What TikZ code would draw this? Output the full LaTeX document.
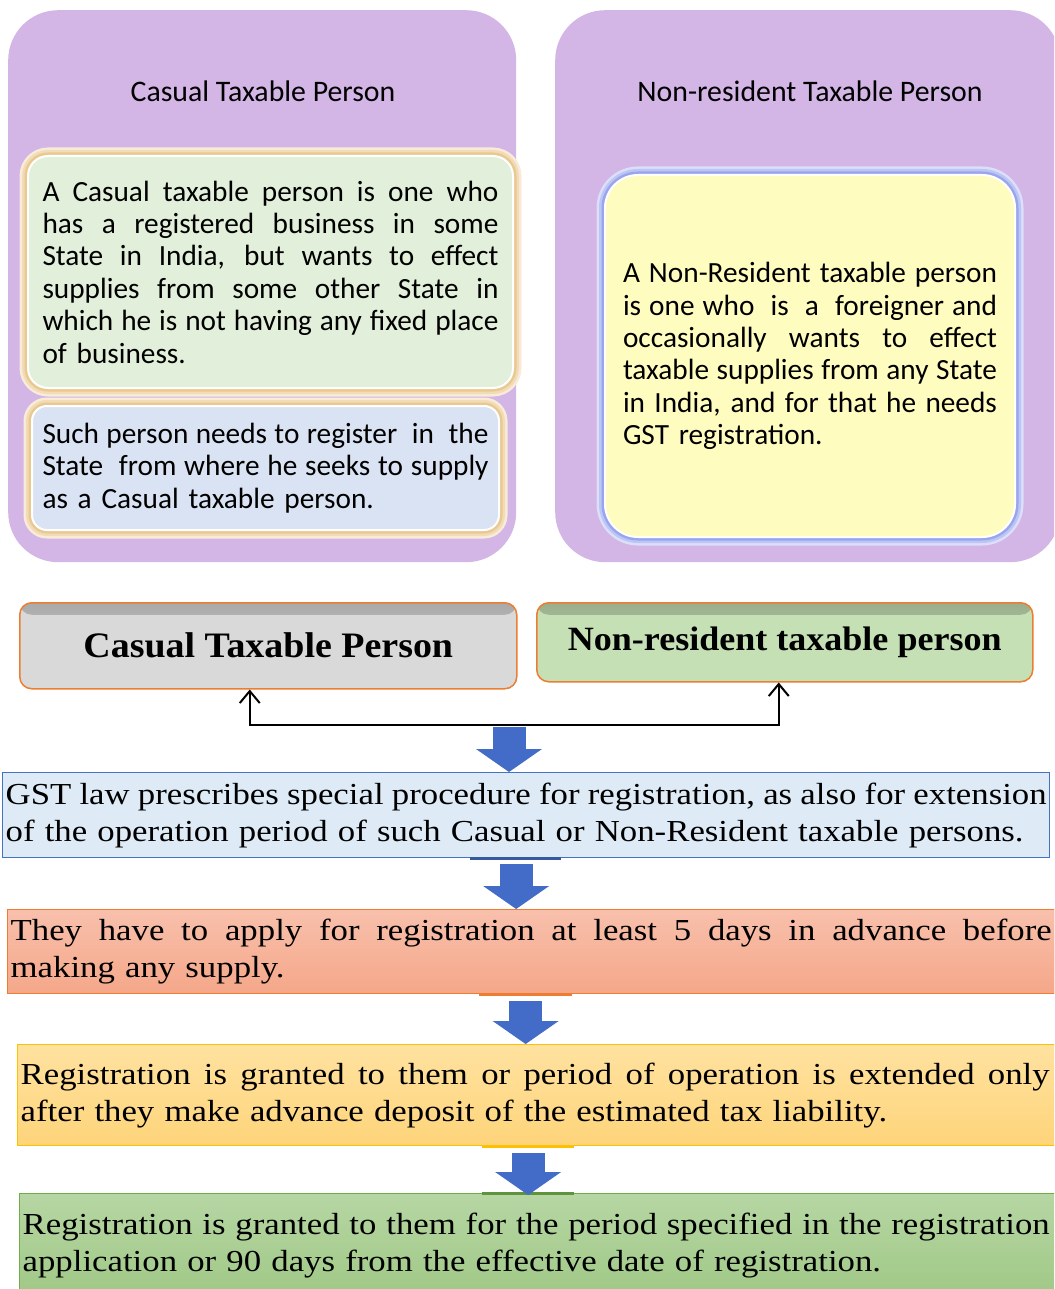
\documentclass[tikz,border=0pt]{standalone}
\usepackage{fontspec}
\setmainfont[FakeStretch=1.14]{Liberation Serif}
\newfontfamily\headfont[FakeStretch=1.06]{Liberation Serif}
\newfontfamily\calibri{Carlito}
\usetikzlibrary{positioning, arrows.meta, calc}

\definecolor{lavender}{RGB}{211,181,230}
\definecolor{mintfill}{RGB}{226,239,218}
\definecolor{bluefill}{RGB}{218,227,243}
\definecolor{cream}{RGB}{255,252,192}
\definecolor{glowgold}{RGB}{230,192,125}
\definecolor{glowblue}{RGB}{135,150,235}
\definecolor{greyfill}{RGB}{217,217,217}
\definecolor{sagefill}{RGB}{197,224,180}
\definecolor{orangeline}{RGB}{237,125,49}
\definecolor{steelblue}{RGB}{68,114,196}
\definecolor{arrowblue}{RGB}{66,108,200}
\definecolor{paleblue}{RGB}{222,235,247}
\definecolor{salmontop}{RGB}{248,192,172}
\definecolor{salmonbot}{RGB}{245,167,137}
\definecolor{ambertop}{RGB}{255,226,160}
\definecolor{amberbot}{RGB}{254,212,122}
\definecolor{amberline}{RGB}{255,192,0}
\definecolor{leaftop}{RGB}{182,214,163}
\definecolor{leafbot}{RGB}{160,200,134}
\definecolor{leafline}{RGB}{112,173,71}

% justified line: spaces stretch to the full text width
\newcommand{\fullline}[2][\hsize]{\makebox[#1][s]{\spaceskip=0pt\xspaceskip=0pt\relax#2}}

\begin{document}
\begin{tikzpicture}[x=1pt, y=-1pt,
    panel/.style={fill=lavender, rounded corners=50pt, anchor=north west, inner sep=0pt},
    paneltitle/.style={font=\calibri\fontsize{29.8}{35}\selectfont},
    innerbox/.style={draw=white, line width=2pt, anchor=north west, inner sep=0pt, align=left,
      font=\calibri\fontsize{29.3}{32.4}\selectfont},
    goldglow/.style={innerbox, preaction={draw=glowgold!30, line width=17pt},
      preaction={draw=glowgold!55, line width=12pt}, preaction={draw=glowgold!85, line width=7pt}},
    blueglow/.style={innerbox, preaction={draw=glowblue!30, line width=17pt},
      preaction={draw=glowblue!55, line width=12pt}, preaction={draw=glowblue!85, line width=7pt}},
    headbox/.style={draw=orangeline, line width=1.5pt, rounded corners=12pt, anchor=north west, inner sep=0pt,
      font=\headfont\bfseries},
    topshade/.style={path picture={\fill[top color=#1!78!black, bottom color=#1]
      (path picture bounding box.north west) rectangle ([yshift=-12pt]path picture bounding box.north east);}},
    stepbox/.style={anchor=north west, inner xsep=3pt, inner ysep=0pt, align=left, line width=1.3pt,
      font=\fontsize{30.5}{37}\selectfont},
    stub/.style={line width=3pt},
    fatarrow/.style={draw=arrowblue, line width=33pt, -{Triangle[width=66pt, length=23pt, line width=0pt]}},
    barb/.style={draw=black, line width=2pt, {Straight Barb[length=12pt, width=20pt]}-{Straight Barb[length=12pt, width=20pt]}}
  ]
  \clip (0,0) rectangle (1054,1289);

  % two upper panels
  \node[panel, minimum width=508pt, minimum height=552pt] (casualpanel) at (8,10) {};
  \node[panel, minimum width=505pt, minimum height=552pt] (nonrespanel) at (555,10) {};
  \node[paneltitle] (casualtitle) at (263,91) {Casual Taxable Person};
  \node[paneltitle] (nonrestitle) at (810,91) {Non-resident Taxable Person};

  \node[goldglow, fill=mintfill, rounded corners=20pt, minimum width=485pt, minimum height=232pt, text width=456pt] (casualdef) at (27,155) {%
    \fullline{A Casual taxable person is one who}\\
    \fullline{has a registered business in some}\\
    \fullline{State in India, but wants to effect}\\
    \fullline{supplies from some other State in}\\
    \fullline{which he is not having any fixed place}\\
    of business.};
  \node[goldglow, fill=bluefill, rounded corners=15pt, minimum width=467pt, minimum height=124pt, text width=446pt] (casualreg) at (31,405) {%
    \fullline{Such person needs to register\ \ in\ \ the}\\
    \fullline{State\ \ from where he seeks to supply}\\
    as a Casual taxable person.};
  \node[blueglow, fill=cream, rounded corners=33pt, minimum width=410pt, minimum height=362pt, text width=374pt] (nonresdef) at (604,174) {%
    \fullline{A Non-Resident taxable person}\\
    \fullline{is one who\ \ is\ \ a\ \ foreigner and}\\
    \fullline{occasionally\ \ wants\ \ to\ \ effect}\\
    \fullline{taxable supplies from any State}\\
    \fullline{in India, and for that he needs}\\
    GST registration.};

  % headings
  \node[headbox, fill=greyfill, topshade=greyfill, minimum width=497pt, minimum height=86pt] (casualhead) at (19,602) {\fontsize{35.8}{40}\selectfont\raisebox{-2pt}{Casual Taxable Person}};
  \node[headbox, fill=sagefill, topshade=sagefill, minimum width=496pt, minimum height=79pt] (nonreshead) at (536,602) {\fontsize{34}{40}\selectfont\raisebox{-3pt}{Non-resident taxable person}};
  \coordinate (fork) at (509,725);
  \draw[barb] ([xshift=-18.5pt]casualhead.south) |- (fork) -| ([xshift=-6pt]nonreshead.south);

  % procedure steps
  \node[stepbox, fill=paleblue, draw=steelblue, text width=1041pt, minimum height=85pt] (procedure) at (2,772) {%
    \fullline{GST law prescribes special procedure for registration, as also for extension}\\
    of the operation period of such Casual or Non-Resident taxable persons.};
  \node[stepbox, top color=salmontop, bottom color=salmonbot, draw=orangeline, text width=1041pt, minimum height=84pt] (advance) at (7,909) {%
    \fullline{They have to apply for registration at least 5 days in advance before}\\
    making any supply.};
  \node[stepbox, top color=ambertop, bottom color=amberbot, draw=amberline, text width=1047pt, minimum height=101pt] (deposit) at (17,1044) {%
    \fullline[1029pt]{Registration is granted to them or period of operation is extended only}\\
    after they make advance deposit of the estimated tax liability.};
  \node[stepbox, top color=leaftop, bottom color=leafbot, draw=leafline, text width=1047pt, minimum height=103pt] (validity) at (19,1193) {%
    \fullline[1027pt]{Registration is granted to them for the period specified in the registration}\\
    application or 90 days from the effective date of registration.};

  \draw[stub, steelblue!80!black] ([xshift=-56.5pt]procedure.south) -- ([xshift=34.5pt]procedure.south);
  \draw[stub, orangeline] ([xshift=-52.5pt]advance.south) -- ([xshift=40.5pt]advance.south);
  \draw[stub, amberline] ([xshift=-62.5pt]deposit.south) -- ([xshift=29.5pt]deposit.south);
  \draw[stub, leafline!85!black] ([xshift=-64.5pt]validity.north) -- ([xshift=27.5pt]validity.north);

  % block arrows
  \path ($(procedure.south)+(-10,6)$) coordinate (arrowtwo)
        ($(advance.south)+(-5.5,7)$) coordinate (arrowthree)
        ($(deposit.south)+(-16,7)$) coordinate (arrowfour);
  \draw[fatarrow] ([yshift=-2pt]fork) -- (fork |- procedure.north);
  \draw[fatarrow] (arrowtwo) -- (arrowtwo |- advance.north);
  \draw[fatarrow] (arrowthree) -- (arrowthree |- deposit.north);
  \draw[fatarrow] (arrowfour) -- ([yshift=-2pt]arrowfour |- validity.north);
\end{tikzpicture}
\end{document}
